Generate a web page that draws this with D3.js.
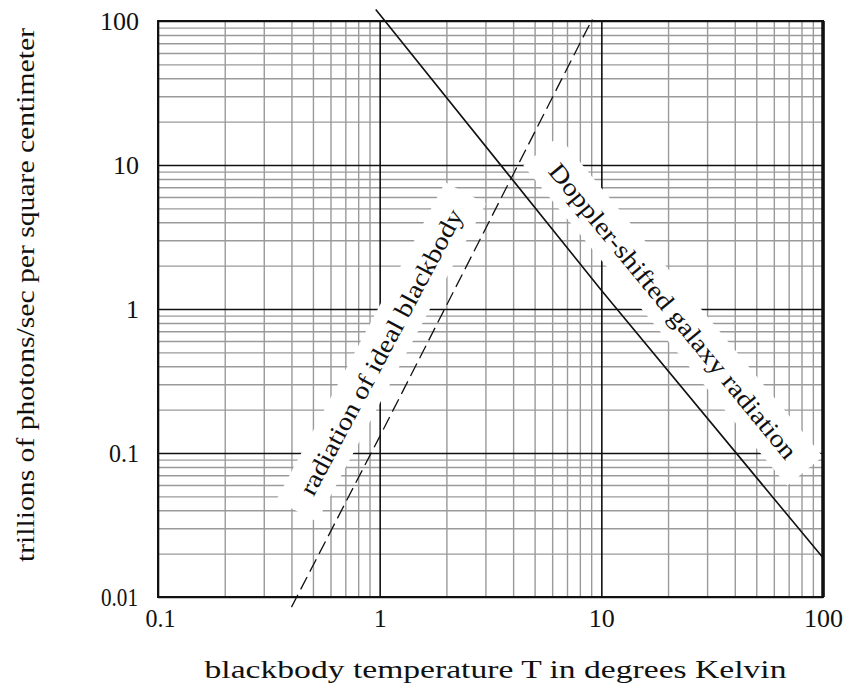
<!DOCTYPE html>
<html><head><meta charset="utf-8">
<script src="https://cdn.jsdelivr.net/npm/d3@7"></script>
<style>
body{margin:0;background:#fff;}
svg text{font-family:"Liberation Serif","Times New Roman",serif;fill:#111;}
</style></head>
<body><svg id="c" width="849" height="694"></svg>
<script>
// ---- data ----
const xTicks = [0.1, 1, 10, 100];
const xTickLabels = ["0.1", "1", "10", "100"];
const yTicks = [0.01, 0.1, 1, 10, 100];
const yTickLabels = ["0.01", "0.1", "1", "10", "100"];
const blackbodyT = [0.4, 1, 9.1];
const blackbodyFlux = [0.0085, 0.13, 103];
const dopplerT = [0.96, 10, 100];
const dopplerFlux = [120, 1.35, 0.0187];
const xTitle = "blackbody temperature T in degrees Kelvin";
const yTitle = "trillions of photons/sec per square centimeter";
const blackbodyLabel = "radiation of ideal blackbody";
const dopplerLabel = "Doppler-shifted galaxy radiation";

// ---- layout ----
const L = 158, R = 823, T = 21, B = 597;
const svg = d3.select("#c");
const x = d3.scaleLog().domain([0.1, 100]).range([L, R]);
const y = d3.scaleLog().domain([0.01, 100]).range([B, T]);

const minor = (ticks) => {
  const out = [];
  for (let i = 0; i < ticks.length - 1; i++)
    for (let k = 2; k <= 9; k++) out.push(ticks[i] * k);
  return out;
};

// minor grid
const gx = svg.append("g").attr("transform", `translate(0,${B})`)
  .call(d3.axisBottom(x).tickValues(minor(xTicks)).tickSize(-(B - T)).tickFormat(""));
gx.select(".domain").remove();
gx.selectAll("line").attr("stroke", "#9a9a9a").attr("stroke-width", 1.4);
const gy = svg.append("g").attr("transform", `translate(${L},0)`)
  .call(d3.axisLeft(y).tickValues(minor(yTicks)).tickSize(-(R - L)).tickFormat(""));
gy.select(".domain").remove();
gy.selectAll("line").attr("stroke", "#9a9a9a").attr("stroke-width", 1.4);

// major grid
const mx = svg.append("g").attr("transform", `translate(0,${B})`)
  .call(d3.axisBottom(x).tickValues(xTicks).tickSize(-(B - T)).tickFormat(""));
mx.select(".domain").remove();
mx.selectAll("line").attr("stroke", "#111").attr("stroke-width", 1.6);
const my = svg.append("g").attr("transform", `translate(${L},0)`)
  .call(d3.axisLeft(y).tickValues(yTicks).tickSize(-(R - L)).tickFormat(""));
my.select(".domain").remove();
my.selectAll("line").attr("stroke", "#111").attr("stroke-width", 1.6);

// label bands (white) covering grid
function band(cx, cy, ang, w, h) {
  svg.append("rect").attr("x", -w / 2).attr("y", -h / 2).attr("width", w).attr("height", h)
    .attr("fill", "#fff").attr("transform", `translate(${cx},${cy}) rotate(${ang})`);
}
band(381, 352, -62, 360, 46);
band(673, 311, 50.5, 415, 46);

// border
svg.append("rect").attr("x", L).attr("y", T).attr("width", R - L).attr("height", B - T)
  .attr("fill", "none").attr("stroke", "#111").attr("stroke-width", 2);
svg.append("line").attr("x1", R).attr("x2", R).attr("y1", T).attr("y2", B)
  .attr("stroke", "#111").attr("stroke-width", 3.5);

// tick labels via axes
const ax = svg.append("g").attr("transform", `translate(0,${B})`)
  .call(d3.axisBottom(x).tickValues(xTicks).tickSize(0)
    .tickFormat((d, i) => xTickLabels[i]));
ax.select(".domain").remove();
ax.selectAll("text").attr("font-size", 26).attr("font-family", "Liberation Serif")
  .attr("fill", "#111").attr("y", 21).attr("dy", "0.34em");
ax.selectAll(".tick").filter((d) => d === 0.1).select("text").attr("dx", 2)
  .attr("textLength", 30).attr("lengthAdjust", "spacingAndGlyphs");

const ay = svg.append("g").attr("transform", `translate(${L},0)`)
  .call(d3.axisLeft(y).tickValues(yTicks).tickSize(0).tickPadding(19)
    .tickFormat((d, i) => yTickLabels[i]));
ay.select(".domain").remove();
ay.selectAll("text").attr("font-size", 26).attr("font-family", "Liberation Serif")
  .attr("fill", "#111").attr("dy", "0.34em");
ay.selectAll(".tick").filter((d) => d === 0.1).select("text")
  .attr("textLength", 30).attr("lengthAdjust", "spacingAndGlyphs");
ay.selectAll(".tick").filter((d) => d === 0.01).select("text").attr("dx", -1).attr("dy", "0.34em")
  .attr("textLength", 37).attr("lengthAdjust", "spacingAndGlyphs");

// curves
const line = d3.line().x((d) => x(d[0])).y((d) => y(d[1]));
svg.append("path").datum(blackbodyT.map((t, i) => [t, blackbodyFlux[i]]))
  .attr("d", line).attr("fill", "none").attr("stroke", "#111").attr("stroke-width", 1.3)
  .attr("stroke-dasharray", "14,6");
svg.append("path").datum(dopplerT.map((t, i) => [t, dopplerFlux[i]]))
  .attr("d", line).attr("fill", "none").attr("stroke", "#111").attr("stroke-width", 1.6);

// curve labels
function rlabel(txt, cx, cy, ang, len) {
  svg.append("text").attr("transform", `translate(${cx},${cy}) rotate(${ang})`)
    .attr("text-anchor", "middle").attr("dominant-baseline", "central")
    .attr("font-size", 25).attr("textLength", len).attr("lengthAdjust", "spacingAndGlyphs")
    .text(txt);
}
rlabel(blackbodyLabel, 381, 352, -62, 320);
rlabel(dopplerLabel, 673, 311, 50.5, 375);

// axis titles
svg.append("text").attr("x", (L + R) / 2 + 5).attr("y", 678).attr("text-anchor", "middle")
  .attr("font-size", 25).attr("textLength", 582).attr("lengthAdjust", "spacingAndGlyphs").text(xTitle);
svg.append("text").attr("transform", "translate(34,295) rotate(-90)").attr("text-anchor", "middle")
  .attr("font-size", 25).attr("textLength", 534).attr("lengthAdjust", "spacingAndGlyphs").text(yTitle);
</script></body></html>
